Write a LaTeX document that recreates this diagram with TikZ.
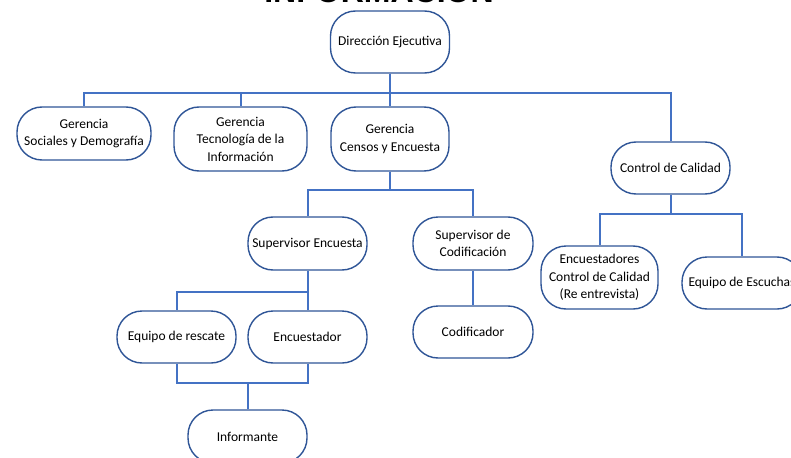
\documentclass[tikz,border=0pt]{standalone}
\usepackage{fontspec}
\setmainfont{Carlito}
\newfontfamily\titlefont{Liberation Sans}
\definecolor{linkblue}{HTML}{4472C4}
\definecolor{edgeblue}{HTML}{2F5597}
\begin{document}
\begin{tikzpicture}[x=1pt,y=-1pt,
  box/.style={draw=edgeblue, line width=1.4pt, rounded corners=25pt, fill=white,
    align=center, minimum width=119pt, minimum height=53pt, inner sep=2pt,
    font=\fontsize{13.5}{17.5}\selectfont},
  link/.style={draw=linkblue, line width=2pt}]
\useasboundingbox (0,0) rectangle (791,457);
\node[font=\titlefont\bfseries\fontsize{32}{32}\selectfont, anchor=base] (title) at (379,3) {INFORMACIÓN};
% nodes
\node[box, minimum height=62pt] (dir) at (390,42) {Dirección Ejecutiva};
\node[box, minimum width=134pt] (gsoc) at (84,133.5) {Gerencia\\Sociales y Demografía};
\node[box, minimum width=133pt, minimum height=64pt] (gtec) at (240.5,139) {Gerencia\\Tecnología de la\\Información};
\node[box, minimum width=118pt, minimum height=64pt] (gcen) at (390,139) {Gerencia\\Censos y Encuesta};
\node[box, minimum height=52pt] (cc) at (670.5,168) {Control de Calidad};
\node[box] (supe) at (307.5,243.5) {Supervisor Encuesta};
\node[box, minimum width=120pt] (supc) at (473,243.5) {Supervisor de\\Codificación};
\node[box, minimum height=52pt] (resc) at (176.5,337) {Equipo de rescate};
\node[box, minimum height=52pt] (encu) at (307.5,337) {Encuestador};
\node[box, minimum width=120pt, minimum height=52pt] (codi) at (473,332) {Codificador};
\node[box] (info) at (247.5,436.5) {Informante};
\node[box, minimum width=117pt, minimum height=63pt] (ecc) at (599.5,277.5) {Encuestadores\\Control de Calidad\\(Re entrevista)};
\node[box, minimum width=120pt, minimum height=52pt] (esc) at (742,283) {Equipo de Escuchas};
% bus levels
\coordinate (b1) at (0,93);
\coordinate (b2) at (0,190);
\coordinate (b3) at (0,292);
\coordinate (b4) at (0,383);
\coordinate (b5) at (0,214);
% connectors
\foreach \c in {gsoc,gtec,gcen,cc}
  \draw[link] (dir.south) -- (dir.south |- b1) -| (\c.north);
\foreach \c in {supe,supc}
  \draw[link] (gcen.south) -- (gcen.south |- b2) -| (\c.north);
\foreach \c in {resc,encu}
  \draw[link] (supe.south) -- (supe.south |- b3) -| (\c.north);
\draw[link] (resc.south) -- (resc.south |- b4) -- (encu.south |- b4) -- (encu.south);
\draw[link] (info.north) -- (info.north |- b4);
\draw[link] (supc.south) -- (codi.north);
\foreach \c in {ecc,esc}
  \draw[link] (cc.south) -- (cc.south |- b5) -| (\c.north);
\end{tikzpicture}
\end{document}
